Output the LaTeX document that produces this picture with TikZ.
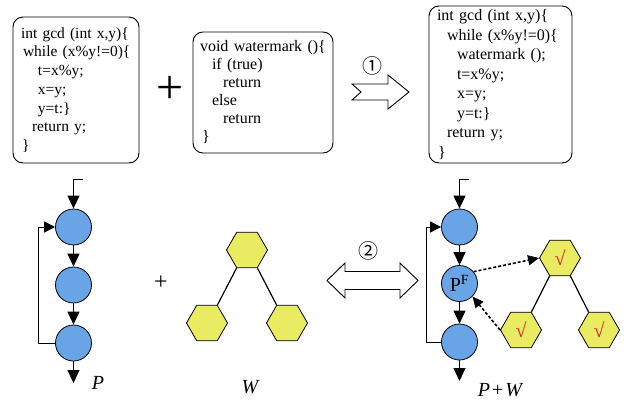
\documentclass[tikz,border=0pt]{standalone}
\usepackage{fontspec}
\setmainfont{Liberation Serif}
\newfontfamily\circledfont{Noto Sans CJK SC}
\usetikzlibrary{shapes.geometric, arrows.meta}

\definecolor{nodeblue}{HTML}{68A4E6}
\definecolor{hexyellow}{HTML}{E9EC62}
\definecolor{checkred}{HTML}{E8202A}

\begin{document}
\begin{tikzpicture}[x=1pt,y=-1pt,
  codebox/.style={draw, line width=0.9pt, rounded corners=10pt, align=left, inner ysep=0pt},
  cfgnode/.style={circle, draw, fill=nodeblue, line width=0.8pt, minimum size=36pt, inner sep=0pt},
  hexnode/.style={regular polygon, regular polygon sides=6, draw, fill=hexyellow, line width=0.8pt, minimum size=41pt, inner sep=0pt, font=\fontsize{20}{20}\selectfont\color{checkred}},
  flow/.style={line width=1pt, -{Triangle[length=13pt,width=12pt]}},
  loopflow/.style={line width=1pt, -{Triangle[length=11pt,width=11pt]}},
  treeline/.style={line width=1.2pt},
  dasharrow/.style={line width=1.6pt, dash pattern=on 3pt off 2pt, -{Triangle[length=11pt,width=10pt]}},
  bigarrow/.style={draw, line width=0.9pt, fill=white, line join=miter},
  circnum/.style={font=\circledfont\fontsize{20}{20}\selectfont},
  lbl/.style={font=\fontsize{20}{20}\selectfont\itshape}
]
\useasboundingbox (0,0) rectangle (624,404);
\fill[white] (0,0) rectangle (624,404);

% code boxes
\node[codebox, minimum width=126pt, minimum height=146pt, inner xsep=8pt, text width=110pt,
      font=\fontsize{15.5}{18.7}\selectfont] (code1) at (76,90)
 {\mbox{int gcd (int x,y)\{}\\
  \mbox{\hspace*{2pt}while (x\%y!=0)\{}\\
  \mbox{\hspace*{17pt}t=x\%y;}\\
  \mbox{\hspace*{17pt}x=y;}\\
  \mbox{\hspace*{17pt}y=t:\}}\\
  \mbox{\hspace*{11pt}return y;}\\
  \mbox{\hspace*{1pt}\}}};

\node[codebox, minimum width=140pt, minimum height=121pt, inner xsep=7pt, text width=126pt,
      font=\fontsize{16}{18}\selectfont] (code2) at (263,92.5)
 {\mbox{void watermark ()\{}\\
  \mbox{\hspace*{12pt}if (true)}\\
  \mbox{\hspace*{23pt}return}\\
  \mbox{\hspace*{12pt}else}\\
  \mbox{\hspace*{23pt}return}\\
  \mbox{\hspace*{2pt}\}}};

\node[codebox, minimum width=143pt, minimum height=157pt, inner xsep=8pt, text width=127pt,
      font=\fontsize{16}{19.5}\selectfont] (code3) at (500.5,84.5)
 {\mbox{int gcd (int x,y)\{}\\
  \mbox{\hspace*{10pt}while (x\%y!=0)\{}\\
  \mbox{\hspace*{20pt}watermark ();}\\
  \mbox{\hspace*{20pt}t=x\%y;}\\
  \mbox{\hspace*{20pt}x=y;}\\
  \mbox{\hspace*{20pt}y=t:\}}\\
  \mbox{\hspace*{10pt}return y;}\\
  \mbox{\hspace*{1pt}\}}};

\node[font=\fontsize{48}{48}\selectfont] (plusbig) at (170,90) {+};

% arrow 1
\draw[bigarrow] (352,84) -- (388,84) -- (388,75) -- (409,92) -- (388,109) -- (388,100) -- (352,100) -- (361,92) -- cycle;
\node[circnum] (num1) at (372,66) {①};

% arrow 2
\draw[bigarrow] (327,280.5) -- (345,263) -- (345,271.5) -- (400,271.5) -- (400,263) -- (418,280.5)
  -- (400,298) -- (400,289.5) -- (345,289.5) -- (345,298) -- cycle;
\node[circnum] (num2) at (368,251) {②};

% left CFG
\node[cfgnode] (c1) at (73.5,227) {};
\node[cfgnode] (c2) at (73.5,285) {};
\node[cfgnode] (c3) at (73.5,343) {};
\coordinate (inL) at (83,179);
\coordinate (outL) at (73.5,383);
\draw[flow] (inL) -| (c1);
\draw[flow] (c1) -- (c2);
\draw[flow] (c2) -- (c3);
\draw[flow] (c3) -- (outL);
\draw[loopflow] (c3.west) -- (38,343) |- (c1.west);
\node[lbl] (lblP) at (98,383) {P};

\node[font=\fontsize{24}{24}\selectfont] (plussmall) at (161,283) {+};

% W tree
\node[hexnode] (w1) at (247,250) {};
\node[hexnode] (w2) at (207,323) {};
\node[hexnode] (w3) at (287,323) {};
\draw[treeline] (w1.240) -- (w2.60);
\draw[treeline] (w1.300) -- (w3.120);
\node[lbl] (lblW) at (250,387) {W};

% right CFG
\node[cfgnode] (r1) at (459.5,227) {};
\node[cfgnode, font=\fontsize{20}{20}\selectfont] (r2) at (459.5,283.5) {P\textsuperscript{F}};
\node[cfgnode] (r3) at (459.5,342) {};
\coordinate (inR) at (469,179);
\coordinate (outR) at (459.5,381);
\draw[flow] (inR) -| (r1);
\draw[flow] (r1) -- (r2);
\draw[flow] (r2) -- (r3);
\draw[flow] (r3) -- (outR);
\draw[loopflow] (r3.west) -- (426,342) |- (r1.west);
\node[lbl] (lblPW) at (500,390) {P\hspace{2pt}\upshape+\hspace{2pt}\itshape W};

% watermarked tree
\node[hexnode] (h1) at (560,258) {√};
\node[hexnode] (h2) at (521,330) {√};
\node[hexnode] (h3) at (599,330) {√};
\draw[treeline] (h1.240) -- (h2.60);
\draw[treeline] (h1.300) -- (h3.120);
\draw[dasharrow] (r2.40) -- (h1.west);
\draw[dasharrow] (h2.west) -- (r2.-45);
\end{tikzpicture}
\end{document}
